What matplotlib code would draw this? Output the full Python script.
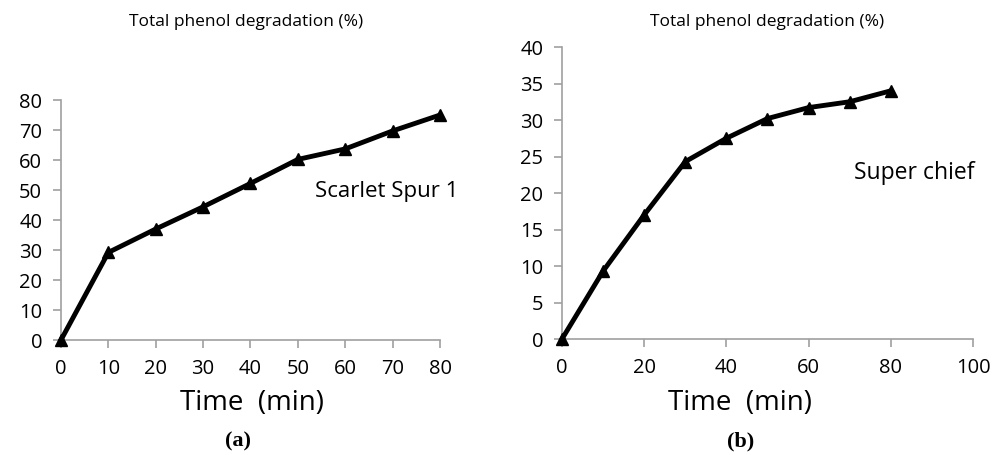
import matplotlib.pyplot as plt

# data
time_a = [0, 10, 20, 30, 40, 50, 60, 70, 80]
deg_a = [0, 29.2, 37.0, 44.4, 52.2, 60.2, 63.7, 69.7, 75.0]

time_b = [0, 10, 20, 30, 40, 50, 60, 70, 80]
deg_b = [0, 9.3, 17.0, 24.3, 27.5, 30.2, 31.7, 32.5, 34.0]

plt.rcParams['font.family'] = ['Open Sans', 'DejaVu Sans']

fig = plt.figure(figsize=(10.03, 4.55), dpi=100)
ax_a = fig.add_axes([0.0608, 0.2527, 0.3779, 0.5275])
ax_b = fig.add_axes([0.5603, 0.2549, 0.4098, 0.6418])


def style(ax):
    for side in ("top", "right"):
        ax.spines[side].set_visible(False)
    for side in ("left", "bottom"):
        ax.spines[side].set_color("#a0a0a0")
        ax.spines[side].set_linewidth(1.2)
    ax.tick_params(direction="out", length=5.5, width=1.2, color="#a0a0a0",
                   labelsize=14.5, labelcolor="black", pad=8)


ax_a.plot(time_a, deg_a, color="black", lw=3.5, marker="^", ms=8.5, clip_on=False, zorder=5)
ax_a.set_xlim(0, 80)
ax_a.set_ylim(0, 80)
ax_a.set_xticks(range(0, 81, 10))
ax_a.set_yticks(range(0, 81, 10))
style(ax_a)
ax_a.text(0.67, 0.617, "Scarlet Spur 1", transform=ax_a.transAxes, fontsize=16,
          va="center")

ax_b.plot(time_b, deg_b, color="black", lw=3.5, marker="^", ms=8.5, clip_on=False, zorder=5)
ax_b.set_xlim(0, 100)
ax_b.set_ylim(0, 40)
ax_b.set_xticks(range(0, 101, 20))
ax_b.set_yticks(range(0, 41, 5))
style(ax_b)
ax_b.text(0.71, 0.568, "Super chief", transform=ax_b.transAxes, fontsize=16.5,
          va="center")

fig.text(0.245, 0.952, "Total phenol degradation (%)", ha="center", va="center", fontsize=12.5)
fig.text(0.765, 0.952, "Total phenol degradation (%)", ha="center", va="center", fontsize=12.5)

fig.text(0.2515, 0.115, "Time  (min)", ha="center", va="center", fontsize=20)
fig.text(0.738, 0.115, "Time  (min)", ha="center", va="center", fontsize=20)

fig.text(0.237, 0.03, "(a)", ha="center", va="center", fontsize=16,
         family="Liberation Serif", weight="bold")
fig.text(0.738, 0.03, "(b)", ha="center", va="center", fontsize=16,
         family="Liberation Serif", weight="bold")

fig.savefig("out.png", dpi=100)
